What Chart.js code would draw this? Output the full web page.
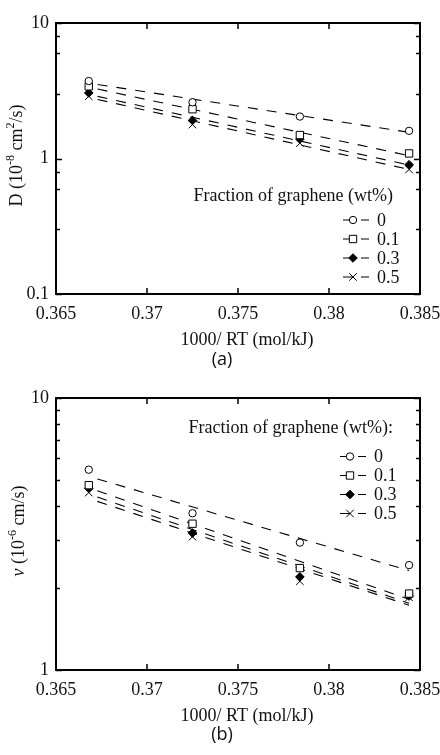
<!DOCTYPE html>
<html>
<head>
<meta charset="utf-8">
<script src="https://cdn.jsdelivr.net/npm/chart.js@4/dist/chart.umd.min.js"></script>
<style>
  body { margin: 0; background: #fff; width: 440px; height: 755px; overflow: hidden; position: relative; }
  .box { position: absolute; left: 0; width: 440px; }
  .cap { position: absolute; left: 0; width: 444px; text-align: center; font: 18px "Open Sans", sans-serif; color: #111; line-height: 20px; }
</style>
</head>
<body>
<div class="box" style="top:0;height:375px"><canvas id="chartA"></canvas></div>
<div class="box" style="top:375px;height:380px"><canvas id="chartB"></canvas></div>
<div class="cap" style="top:348px">(a)</div>
<div class="cap" style="top:723px">(b)</div>
<script>
const xValues = [0.3668, 0.3725, 0.3784, 0.3844];
const xTicks = [0.365, 0.37, 0.375, 0.38, 0.385];
const fractions = ['0', '0.1', '0.3', '0.5'];
const mantissas = [2, 3, 4, 5, 6, 7, 8, 9];

// (a) D (10^-8 cm2/s)
const dW0 = [3.73, 2.60, 2.04, 1.60];
const dW01 = [3.41, 2.31, 1.49, 1.09];
const dW03 = [3.05, 1.91, 1.39, 0.90];
const dW05 = [2.88, 1.78, 1.30, 0.83];
// dashed fits: value at first and last x
const dFit0 = [3.60, 1.56];
const dFit01 = [3.36, 1.05];
const dFit03 = [2.97, 0.895];
const dFit05 = [2.82, 0.83];
const dDecades = [0.1, 1, 10];

// (b) v (10^-6 cm/s)
const vW0 = [5.45, 3.77, 2.94, 2.43];
const vW01 = [4.78, 3.45, 2.37, 1.91];
const vW03 = [4.65, 3.19, 2.20, 1.87];
const vW05 = [4.49, 3.09, 2.12, 1.85];
const vFit0 = [5.15, 2.32];
const vFit01 = [4.68, 1.82];
const vFit03 = [4.43, 1.76];
const vFit05 = [4.27, 1.73];
const vDecades = [1, 10];

const SERIF = '"Liberation Serif", "Times New Roman", serif';
const FS = 18;
const markers = [
    { style: 'circle', radius: 3.7, fill: '#fff' },
    { style: 'rect', radius: 5.2, fill: '#fff' },
    { style: 'rectRot', radius: 4.3, fill: '#000' },
    { style: 'crossRot', radius: 5.3, fill: '#000' }
];

function drawRich(ctx, parts, x, y, rotate) {
    const fontOf = p => (p.italic ? 'italic ' : '') + (p.sup ? 12 : FS) + 'px ' + SERIF;
    let total = 0;
    parts.forEach(p => { ctx.font = fontOf(p); total += ctx.measureText(p.t).width; });
    ctx.save();
    ctx.translate(x, y);
    if (rotate) ctx.rotate(-Math.PI / 2);
    ctx.textBaseline = 'middle';
    ctx.textAlign = 'left';
    let cx = -total / 2;
    parts.forEach(p => {
        ctx.font = fontOf(p);
        ctx.fillText(p.t, cx, p.sup ? -6 : 0);
        cx += ctx.measureText(p.t).width;
    });
    ctx.restore();
}

const decor = {
    id: 'decor',
    afterDraw(chart, args, o) {
        const { ctx, chartArea: a, scales: { x, y } } = chart;
        ctx.save();
        ctx.strokeStyle = '#000';
        ctx.fillStyle = '#111';
        ctx.lineWidth = 1;
        // inward ticks on all four sides
        ctx.beginPath();
        x.ticks.forEach(t => {
            const px = Math.round(x.getPixelForValue(t.value));
            ctx.moveTo(px, a.bottom); ctx.lineTo(px, a.bottom - 6);
            ctx.moveTo(px, a.top); ctx.lineTo(px, a.top + 6);
        });
        y.ticks.forEach(t => {
            const py = Math.round(y.getPixelForValue(t.value)) + 0.5;
            const len = t.major ? 6 : 4;
            ctx.moveTo(a.left, py); ctx.lineTo(a.left + len, py);
            ctx.moveTo(a.right, py); ctx.lineTo(a.right - len, py);
        });
        ctx.lineWidth = 1.5;
        ctx.stroke();
        ctx.lineWidth = 2;
        ctx.strokeRect(a.left, a.top, a.width, a.height);

        // axis titles
        drawRich(ctx, o.yTitle, o.yTitleX, (a.top + a.bottom) / 2 - 3, true);
        drawRich(ctx, [{ t: '1000/ RT (mol/kJ)' }], 247, a.bottom + 46, false);

        // legend
        ctx.font = FS + 'px ' + SERIF;
        ctx.textBaseline = 'middle';
        ctx.textAlign = 'right';
        ctx.fillText(o.legendTitle, 393, o.legendTitleY);
        ctx.textAlign = 'left';
        chart.data.datasets.filter(d => d.legendIndex !== undefined).forEach(d => {
            const i = d.legendIndex;
            const ly = o.rowY + i * 19;
            const mx = o.markX;
            ctx.lineWidth = 1;
            ctx.beginPath();
            ctx.moveTo(mx - 10, ly); ctx.lineTo(mx, ly);
            ctx.moveTo(mx + 8, ly); ctx.lineTo(mx + 16, ly);
            ctx.stroke();
            ctx.fillStyle = d.pointBackgroundColor;
            Chart.helpers.drawPoint(ctx, { pointStyle: d.pointStyle, radius: d.pointRadius, borderWidth: 1, rotation: 0 }, mx, ly);
            ctx.fillStyle = '#111';
            ctx.fillText(d.label, mx + 24, ly + 1);
        });
        ctx.restore();
    }
};

function makeChart(id, cfg) {
    const seriesSets = cfg.series.map((vals, i) => ({
        label: fractions[i],
        legendIndex: i,
        data: vals.map((v, k) => ({ x: xValues[k], y: v })),
        showLine: false,
        pointStyle: markers[i].style,
        pointRadius: markers[i].radius,
        pointHoverRadius: markers[i].radius,
        pointBackgroundColor: markers[i].fill,
        pointBorderColor: '#000',
        pointBorderWidth: 1
    }));
    const fitSets = cfg.fits.map(f => ({
        data: [{ x: xValues[0], y: f[0] }, { x: xValues[xValues.length - 1], y: f[1] }],
        showLine: true,
        borderColor: '#000',
        borderWidth: 1.1,
        borderDash: [10, 9],
        borderDashOffset: 10,
        pointRadius: 0
    }));
    const yTicks = [];
    cfg.decades.forEach((d, k) => {
        yTicks.push(d);
        if (k < cfg.decades.length - 1) mantissas.forEach(m => yTicks.push(m * d));
    });

    return new Chart(document.getElementById(id), {
        type: 'scatter',
        data: { datasets: [...seriesSets, ...fitSets] },
        options: {
            responsive: true,
            maintainAspectRatio: false,
            animation: false,
            layout: { padding: { top: cfg.top, right: 20, left: 0, bottom: 0 } },
            plugins: {
                legend: { display: false },
                tooltip: { enabled: false },
                decor: cfg.decor
            },
            scales: {
                x: {
                    type: 'linear',
                    min: 0.365,
                    max: 0.385,
                    grid: { display: false, drawTicks: false },
                    border: { display: false },
                    afterBuildTicks: s => { s.ticks = xTicks.map(v => ({ value: v })); },
                    afterFit: s => { s.height = cfg.bottomH; s.paddingLeft = 0; s.paddingRight = 0; },
                    ticks: {
                        padding: 9,
                        color: '#111',
                        maxRotation: 0,
                        font: { family: SERIF, size: FS },
                        callback: v => String(v)
                    }
                },
                y: {
                    type: 'logarithmic',
                    min: cfg.decades[0],
                    max: cfg.decades[cfg.decades.length - 1],
                    grid: { display: false, drawTicks: false },
                    border: { display: false },
                    afterBuildTicks: s => {
                        s.ticks = yTicks.map(v => ({ value: v, major: cfg.decades.includes(v) }));
                    },
                    afterFit: s => { s.width = 56; s.paddingTop = 0; s.paddingBottom = 0; },
                    ticks: {
                        padding: 7,
                        color: '#111',
                        font: { family: SERIF, size: FS },
                        callback: v => (cfg.decades.includes(v) ? String(v) : '')
                    }
                }
            }
        },
        plugins: [decor]
    });
}

makeChart('chartA', {
    series: [dW0, dW01, dW03, dW05],
    fits: [dFit0, dFit01, dFit03, dFit05],
    decades: dDecades,
    top: 23,
    bottomH: 81,
    decor: {
        yTitle: [{ t: 'D (10' }, { t: '-8', sup: true }, { t: ' cm' }, { t: '2', sup: true }, { t: '/s)' }],
        yTitleX: 17,
        legendTitle: 'Fraction of graphene (wt%)',
        legendTitleY: 196,
        rowY: 220,
        markX: 353
    }
});

makeChart('chartB', {
    series: [vW0, vW01, vW03, vW05],
    fits: [vFit0, vFit01, vFit03, vFit05],
    decades: vDecades,
    top: 23,
    bottomH: 85,
    decor: {
        yTitle: [{ t: 'v', italic: true }, { t: ' (10' }, { t: '-6', sup: true }, { t: ' cm/s)' }],
        yTitleX: 19,
        legendTitle: 'Fraction of graphene (wt%):',
        legendTitleY: 53,
        rowY: 81.5,
        markX: 350
    }
});
</script>
</body>
</html>
